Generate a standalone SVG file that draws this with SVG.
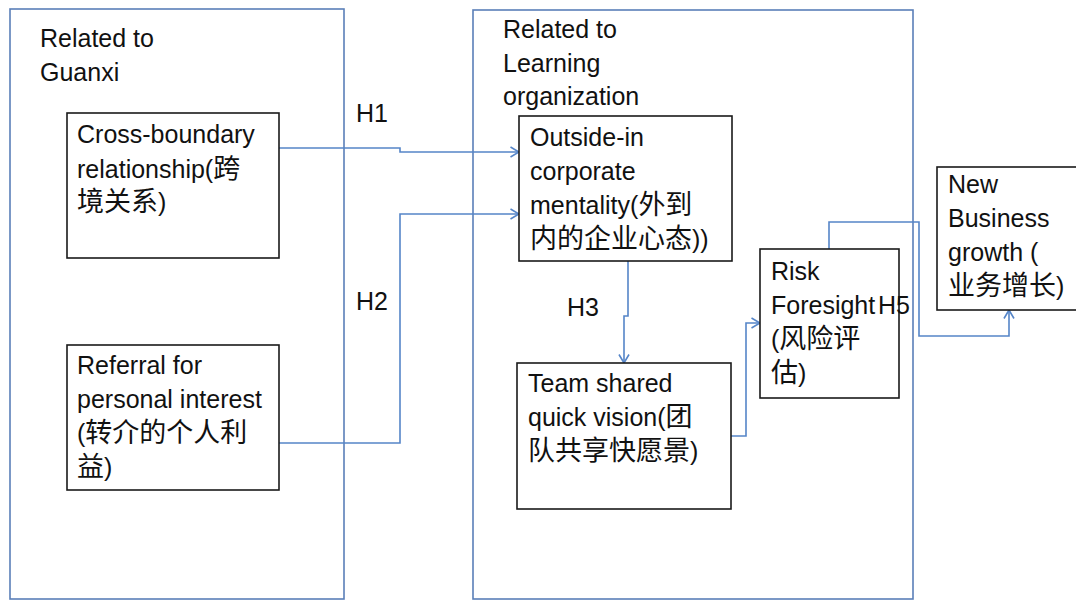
<svg xmlns="http://www.w3.org/2000/svg" width="1076" height="601" viewBox="0 0 1076 601">
<defs>
<style>
.outer{fill:none;stroke:#5a7fb8;stroke-width:1.6}
.box{fill:#fff;stroke:#1a1a1a;stroke-width:1.6}
.t{font-family:"Liberation Sans","Noto Sans CJK SC",sans-serif;font-size:25px;fill:#111}
.k{font-size:27px}
.c{fill:none;stroke:#5585c8;stroke-width:1.6}
</style>
<marker id="arr" viewBox="0 0 10 12" refX="9.5" refY="6" markerWidth="10" markerHeight="12" markerUnits="userSpaceOnUse" orient="auto">
<path d="M1,1 L9.5,6 L1,11" fill="none" stroke="#5585c8" stroke-width="1.6"/>
</marker>
</defs>
<rect width="1076" height="601" fill="#fff"/>

<g id="group-guanxi">
<rect class="outer" x="10" y="9" width="334" height="590"/>
<text class="t" x="40" y="47">Related to</text>
<text class="t" x="40" y="81">Guanxi</text>
</g>

<g id="group-learning">
<rect class="outer" x="473" y="10" width="440" height="589"/>
<text class="t" x="503" y="38">Related to</text>
<text class="t" x="503" y="72">Learning</text>
<text class="t" x="503" y="105">organization</text>
</g>

<g id="connectors">
<path class="c" d="M279,148 H400 V152 H519" marker-end="url(#arr)"/>
<path class="c" d="M279,443 H400 V214 H519" marker-end="url(#arr)"/>
<path class="c" d="M628,261 V316 H624 V363" marker-end="url(#arr)"/>
<path class="c" d="M731,436 H746 V323 H760" marker-end="url(#arr)"/>
<path class="c" d="M829,249 V222 H919 V336 H1009 V310" marker-end="url(#arr)"/>
</g>

<g id="node-cross-boundary">
<rect class="box" x="67" y="113" width="212" height="145"/>
<text class="t" x="77" y="143">Cross-boundary</text>
<text class="t" x="77" y="178">relationship(<tspan class="k">跨</tspan></text>
<text class="t" x="77" y="211"><tspan class="k">境关系</tspan>)</text>
</g>

<g id="node-referral">
<rect class="box" x="67" y="345" width="212" height="145"/>
<text class="t" x="77" y="374">Referral for</text>
<text class="t" x="77" y="408">personal interest</text>
<text class="t" x="77" y="442">(<tspan class="k">转介的个人利</tspan></text>
<text class="t" x="77" y="476"><tspan class="k">益</tspan>)</text>
</g>

<g id="node-outside-in">
<rect class="box" x="519" y="116" width="213" height="145"/>
<text class="t" x="530" y="146">Outside-in</text>
<text class="t" x="530" y="180">corporate</text>
<text class="t" x="530" y="214">mentality(<tspan class="k">外到</tspan></text>
<text class="t" x="530" y="248"><tspan class="k">内的企业心态</tspan>))</text>
</g>

<g id="node-team">
<rect class="box" x="517" y="363" width="214" height="146"/>
<text class="t" x="528" y="392">Team shared</text>
<text class="t" x="528" y="426">quick vision(<tspan class="k">团</tspan></text>
<text class="t" x="528" y="460"><tspan class="k">队共享快愿景</tspan>)</text>
</g>

<g id="node-risk">
<rect class="box" x="760" y="249" width="139" height="149"/>
<text class="t" x="771" y="280">Risk</text>
<text class="t" x="771" y="314">Foresight</text>
<text class="t" x="771" y="348">(<tspan class="k">风险评</tspan></text>
<text class="t" x="771" y="382"><tspan class="k">估</tspan>)</text>
</g>

<g id="node-new-business">
<rect class="box" x="937" y="167" width="145" height="143"/>
<text class="t" x="948" y="193">New</text>
<text class="t" x="948" y="227">Business</text>
<text class="t" x="948" y="261">growth (</text>
<text class="t" x="948" y="295"><tspan class="k">业务增长</tspan>)</text>
</g>

<g id="labels">
<text class="t" x="356" y="122">H1</text>
<text class="t" x="356" y="310">H2</text>
<text class="t" x="567" y="316">H3</text>
<text class="t" x="878" y="314">H5</text>
</g>
</svg>
